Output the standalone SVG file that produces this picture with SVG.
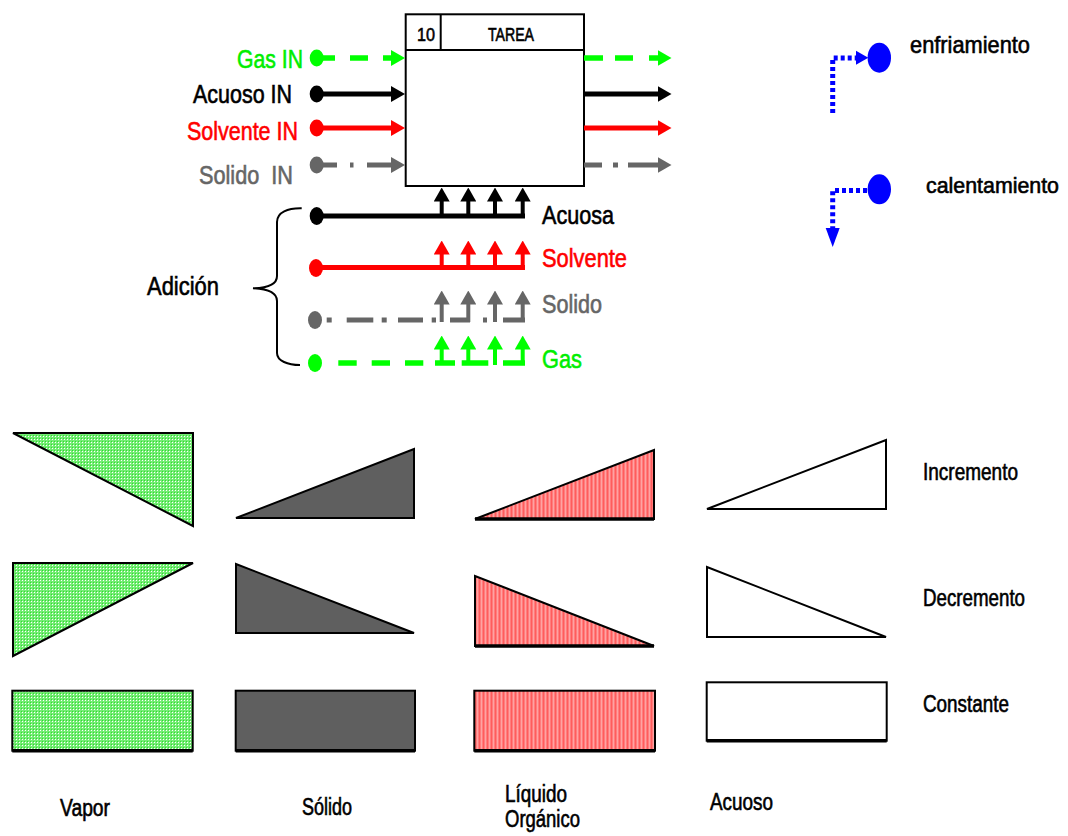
<svg xmlns="http://www.w3.org/2000/svg" width="1068" height="836" viewBox="0 0 1068 836">
  <style>
    text { font-family: "Liberation Sans", Arial, sans-serif; fill: #000; stroke: #000; stroke-width: 0.6; }
    .lbl { font-size: 26px; }
    .sm { font-size: 23px; }
    .k { fill: #000; stroke: #000; }
    .r { fill: #ff0000; stroke: #ff0000; }
    .g { fill: #00ee00; stroke: #00ee00; }
    .gy { fill: #666666; stroke: #666666; }
    .ln-k { stroke: #000; stroke-width: 5; fill: none; }
    .ln-r { stroke: #ff0000; stroke-width: 5; fill: none; }
    .ln-gy { stroke: #666666; stroke-width: 5; fill: none; }
    .ln-g { stroke: #00ff00; stroke-width: 5.5; fill: none; }
    .st-k { stroke: #000; stroke-width: 4; fill: none; marker-end: url(#ah-k); }
    .st-r { stroke: #ff0000; stroke-width: 4; fill: none; marker-end: url(#ah-r); }
    .st-gy { stroke: #666666; stroke-width: 4; fill: none; marker-end: url(#ah-gy); }
    .st-g { stroke: #00ff00; stroke-width: 4; fill: none; marker-end: url(#ah-g); }
    .dot-blue { stroke: #0000ff; stroke-width: 5; stroke-dasharray: 4 3; fill: none; }
    .shape { stroke: #000; stroke-width: 2; stroke-linejoin: miter; }
    .base { stroke: #000; stroke-width: 3.5; }
  </style>
  <defs>
    <marker id="ah-k" viewBox="0 0 14 16" refX="0.5" refY="8" markerWidth="14" markerHeight="16" markerUnits="userSpaceOnUse" orient="auto">
      <path d="M0,0 L14,8 L0,16 z" fill="#000"/>
    </marker>
    <marker id="ah-r" viewBox="0 0 14 16" refX="0.5" refY="8" markerWidth="14" markerHeight="16" markerUnits="userSpaceOnUse" orient="auto">
      <path d="M0,0 L14,8 L0,16 z" fill="#ff0000"/>
    </marker>
    <marker id="ah-gy" viewBox="0 0 14 16" refX="0.5" refY="8" markerWidth="14" markerHeight="16" markerUnits="userSpaceOnUse" orient="auto">
      <path d="M0,0 L14,8 L0,16 z" fill="#666666"/>
    </marker>
    <marker id="ah-g" viewBox="0 0 14 16" refX="0.5" refY="8" markerWidth="14" markerHeight="16" markerUnits="userSpaceOnUse" orient="auto">
      <path d="M0,0 L14,8 L0,16 z" fill="#00ff00"/>
    </marker>
    <!-- textured fills for the phase swatches -->
    <pattern id="fill-vapor" width="3" height="3" patternUnits="userSpaceOnUse">
      <rect width="3" height="3" fill="#74ec74"/>
      <rect x="1" y="1" width="1" height="1" fill="#ffffff"/>
      <rect x="0" y="0" width="1" height="1" fill="#2fdc2f"/>
    </pattern>
    <pattern id="fill-liq" width="4" height="4" patternUnits="userSpaceOnUse">
      <rect width="4" height="4" fill="#ff7d7d"/>
      <rect x="1" width="1" height="4" fill="#ffa3a3"/>
      <rect x="3" width="1" height="4" fill="#ff5c5c"/>
    </pattern>
  </defs>

  <!-- task block -->
  <g id="tarea">
    <rect x="405.7" y="14.3" width="178.3" height="171.7" fill="#fff" stroke="#000" stroke-width="2"/>
    <line x1="405.7" y1="50" x2="584" y2="50" stroke="#000" stroke-width="2"/>
    <line x1="440.7" y1="14.3" x2="440.7" y2="50" stroke="#000" stroke-width="2"/>
    <text x="417" y="41" font-size="19" textLength="18" lengthAdjust="spacingAndGlyphs">10</text>
    <text x="488" y="41" font-size="19" textLength="46" lengthAdjust="spacingAndGlyphs">TAREA</text>
  </g>

  <!-- stream inputs -->
  <g id="gas-in">
    <ellipse cx="316.7" cy="58" rx="7" ry="8.5" fill="#00ff00"/>
    <text class="lbl g" x="237" y="68" textLength="66" lengthAdjust="spacingAndGlyphs">Gas IN</text>
  </g>
  <g id="acuoso-in">
    <ellipse cx="316.7" cy="94" rx="7" ry="8.5" fill="#000"/>
    <text class="lbl k" x="193" y="103" textLength="99" lengthAdjust="spacingAndGlyphs">Acuoso IN</text>
  </g>
  <g id="solvente-in">
    <ellipse cx="316.7" cy="128" rx="7" ry="8.5" fill="#ff0000"/>
    <text class="lbl r" x="187" y="140" textLength="111" lengthAdjust="spacingAndGlyphs">Solvente IN</text>
  </g>
  <g id="solido-in">
    <ellipse cx="316.7" cy="165" rx="7" ry="8.5" fill="#666666"/>
    <text class="lbl gy" x="199" y="184" textLength="94" lengthAdjust="spacingAndGlyphs" style="white-space:pre">Solido  IN</text>
  </g>

  <!-- additions -->
  <g id="adicion">
    <path d="M301.7,208.3 C288,208 277,212 277,222 L277,276 C277,284 268,288 253,288.3 C268,289 277,293 277,301 L277,353 C277,361 288,365 300,365" fill="none" stroke="#000" stroke-width="2"/>
    <text class="lbl k" x="147" y="295" font-size="25" textLength="72" lengthAdjust="spacingAndGlyphs">Adición</text>
  </g>
  <g id="acuosa">
    <ellipse cx="316.7" cy="216" rx="7" ry="9" fill="#000"/>
    <text class="lbl k" x="542" y="224" textLength="72" lengthAdjust="spacingAndGlyphs">Acuosa</text>
  </g>
  <g id="solvente">
    <ellipse cx="316" cy="268" rx="7" ry="9" fill="#ff0000"/>
    <text class="lbl r" x="542" y="267" textLength="85" lengthAdjust="spacingAndGlyphs">Solvente</text>
  </g>
  <g id="solido">
    <ellipse cx="315" cy="320" rx="7" ry="9" fill="#666666"/>
    <text class="lbl gy" x="542" y="313" textLength="60" lengthAdjust="spacingAndGlyphs">Solido</text>
  </g>
  <g id="gas">
    <ellipse cx="315" cy="363" rx="7" ry="9" fill="#00ff00"/>
    <text class="lbl g" x="542" y="368" textLength="40" lengthAdjust="spacingAndGlyphs">Gas</text>
  </g>

  <!-- thermal symbols -->
  <g id="enfriamiento">
    <ellipse cx="879.3" cy="57.7" rx="11.7" ry="15" fill="#0000ff"/>
    <text x="910" y="53" font-size="24" textLength="120" lengthAdjust="spacingAndGlyphs">enfriamiento</text>
  </g>
  <g id="calentamiento">
    <ellipse cx="879.3" cy="189.3" rx="11.7" ry="15" fill="#0000ff"/>
    <text x="926" y="193" font-size="22" textLength="133" lengthAdjust="spacingAndGlyphs">calentamiento</text>
  </g>

  <g id="connectors">
    <!-- gas in / out -->
    <path class="ln-g" d="M316.7,58 H335 M350,58 H368 M383,58 H391.5" marker-end="url(#ah-g)"/>
    <path class="ln-g" d="M584,58 H603 M615,58 H633 M649,58 H658" marker-end="url(#ah-g)"/>
    <!-- aqueous -->
    <path class="ln-k" d="M316.7,94 H391.5" marker-end="url(#ah-k)"/>
    <path class="ln-k" d="M584,94 H658" marker-end="url(#ah-k)"/>
    <!-- solvent -->
    <path class="ln-r" d="M316.7,128 H391.5" marker-end="url(#ah-r)"/>
    <path class="ln-r" d="M584,128 H658" marker-end="url(#ah-r)"/>
    <!-- solid -->
    <path class="ln-gy" d="M316.7,165 H337 M350,165 H353.5 M367,165 H391.5" marker-end="url(#ah-gy)"/>
    <path class="ln-gy" d="M584,165 H602 M613,165 H618 M628,165 H658" marker-end="url(#ah-gy)"/>

    <!-- aqueous addition -->
    <path class="ln-k" d="M316.7,216 H525"/>
    <path class="st-k" d="M441.7,218 V201"/>
    <path class="st-k" d="M468.3,218 V201"/>
    <path class="st-k" d="M495,218 V201"/>
    <path class="st-k" d="M522.7,218 V201"/>
    <!-- solvent addition -->
    <path class="ln-r" d="M316,267.5 H525"/>
    <path class="st-r" d="M441.7,269 V254"/>
    <path class="st-r" d="M468.3,269 V254"/>
    <path class="st-r" d="M495,269 V254"/>
    <path class="st-r" d="M522.7,269 V254"/>
    <!-- solid addition -->
    <path class="ln-gy" d="M326.7,320 H331.7 M346.7,320 H373.3 M381.7,320 H386.7 M398,320 H423 M431.7,320 H436 M450,320 H470 M483,320 H487 M503,320 H525"/>
    <path class="st-gy" d="M441.7,322 V304"/>
    <path class="st-gy" d="M468.3,322 V304"/>
    <path class="st-gy" d="M495,322 V304"/>
    <path class="st-gy" d="M522.7,322 V304"/>
    <!-- gas addition -->
    <path class="ln-g" d="M338.3,363 H356.7 M371.7,363 H390 M405,363 H423.3 M435,363 H455 M461.7,363 H488.3 M503,363 H525"/>
    <path class="st-g" d="M441.7,365 V349"/>
    <path class="st-g" d="M468.3,365 V349"/>
    <path class="st-g" d="M495,365 V349"/>
    <path class="st-g" d="M522.7,365 V349"/>

    <!-- cooling / heating -->
    <path class="dot-blue" d="M832.7,113 V58 H857"/>
    <polygon points="856,50.7 868.3,57.7 856,64.7" fill="#0000ff"/>
    <path class="dot-blue" d="M867,190.5 H832.7 V229"/>
    <polygon points="825.7,228 839.7,228 832.7,247" fill="#0000ff"/>
  </g>

  <!-- phase legend: vapour -->
  <g id="vapor">
    <polygon class="shape" points="13,433 193,433 193,526" fill="url(#fill-vapor)"/>
    <polygon class="shape" points="13,563 193,563 13,656" fill="url(#fill-vapor)"/>
    <rect class="shape" x="12.3" y="690.7" width="180.4" height="60" fill="url(#fill-vapor)"/>
    <line class="base" x1="12.3" y1="750.7" x2="192.7" y2="750.7"/>
    <text class="sm" x="60" y="816" textLength="50" lengthAdjust="spacingAndGlyphs">Vapor</text>
  </g>
  <!-- solid -->
  <g id="solido-fase">
    <polygon class="shape" points="236,518 414,449 414,518" fill="#5f5f5f"/>
    <polygon class="shape" points="236,564 236,633 414,633" fill="#5f5f5f"/>
    <rect class="shape" x="235.7" y="690.7" width="179.3" height="60" fill="#5f5f5f"/>
    <line class="base" x1="235.7" y1="750.7" x2="415" y2="750.7"/>
    <text class="sm" x="302" y="815" textLength="50" lengthAdjust="spacingAndGlyphs">Sólido</text>
  </g>
  <!-- organic liquid -->
  <g id="liquido-organico">
    <polygon class="shape" points="475,519 654,450 654,519" fill="url(#fill-liq)"/>
    <line class="base" x1="475" y1="519" x2="654" y2="519"/>
    <polygon class="shape" points="475,576 475,646 654,646" fill="url(#fill-liq)"/>
    <line class="base" x1="475" y1="646" x2="654" y2="646"/>
    <rect class="shape" x="474.3" y="690.7" width="180.7" height="60" fill="url(#fill-liq)"/>
    <line class="base" x1="474.3" y1="750.7" x2="655" y2="750.7"/>
    <text class="sm" x="505" y="802" textLength="62" lengthAdjust="spacingAndGlyphs">Líquido</text>
    <text class="sm" x="505" y="827" textLength="75" lengthAdjust="spacingAndGlyphs">Orgánico</text>
  </g>
  <!-- aqueous -->
  <g id="acuoso">
    <polygon class="shape" points="707,509 886,440 886,509" fill="#fff"/>
    <polygon class="shape" points="707,567 707,637 886,637" fill="#fff"/>
    <rect class="shape" x="706.7" y="682.3" width="180" height="58.4" fill="#fff"/>
    <line class="base" x1="706.7" y1="740.7" x2="886.7" y2="740.7"/>
    <text class="sm" x="710" y="810" textLength="63" lengthAdjust="spacingAndGlyphs">Acuoso</text>
  </g>

  <!-- row labels -->
  <g id="incremento">
    <text x="923" y="480" font-size="23" textLength="95" lengthAdjust="spacingAndGlyphs">Incremento</text>
  </g>
  <g id="decremento">
    <text x="923" y="606" font-size="23" textLength="102" lengthAdjust="spacingAndGlyphs">Decremento</text>
  </g>
  <g id="constante">
    <text x="923" y="712" font-size="23" textLength="86" lengthAdjust="spacingAndGlyphs">Constante</text>
  </g>
</svg>
